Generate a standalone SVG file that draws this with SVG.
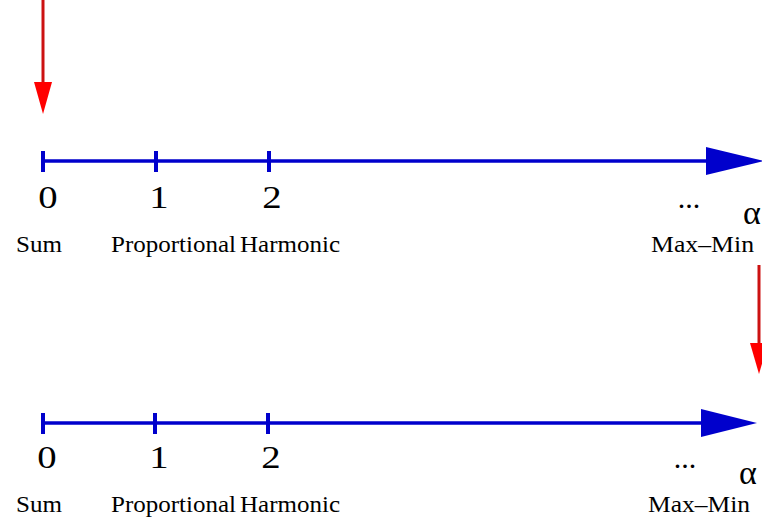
<svg xmlns="http://www.w3.org/2000/svg" width="762" height="520" viewBox="0 0 762 520">
<style>
.ax{stroke:#0000cc;stroke-width:3.5;fill:none}
.tk{stroke:#0000cc;stroke-width:4}
.ah{fill:#0000cc}
.rl{stroke:#cc1111;stroke-width:3;fill:none}
.rh{fill:#ff0000}
.dg{font-family:'Liberation Serif','Times New Roman',serif;font-size:31px;fill:#000}
.dt{font-family:'Liberation Serif','Times New Roman',serif;font-size:30px;fill:#000}
.lb{font-family:'Liberation Serif','Times New Roman',serif;font-size:23px;fill:#000}
.al{font-family:'Liberation Serif','Times New Roman',serif;font-size:34px;fill:#000}
</style>
<rect width="762" height="520" fill="#fff"/>
<g id="connectors">
<line class="rl" x1="43" y1="0" x2="43" y2="90"/>
<polygon class="rh" points="34,82 52,82 43,114"/>
<line class="rl" x1="759" y1="265" x2="759" y2="350"/>
<polygon class="rh" points="750,343 768,343 759,374"/>
</g>
<g id="axis-top">
<line class="ax" x1="43" y1="161" x2="712" y2="161"/>
<polygon class="ah" points="706,147 764,161 706,175"/>
<line class="tk" x1="43" y1="151" x2="43" y2="172"/>
<line class="tk" x1="156" y1="151" x2="156" y2="172"/>
<line class="tk" x1="269" y1="151" x2="269" y2="172"/>
<text class="dg" text-anchor="middle" transform="translate(48,208) scale(1.25,1)">0</text>
<text class="dg" text-anchor="middle" transform="translate(159,208) scale(1.25,1)">1</text>
<text class="dg" text-anchor="middle" transform="translate(272,208) scale(1.25,1)">2</text>
<text class="dt" text-anchor="middle" x="689" y="208">...</text>
<text class="al" x="743" y="224">α</text>
<text class="lb" x="16" y="252" textLength="46" lengthAdjust="spacingAndGlyphs">Sum</text>
<text class="lb" x="111" y="252" textLength="125" lengthAdjust="spacingAndGlyphs">Proportional</text>
<text class="lb" x="240" y="252" textLength="100" lengthAdjust="spacingAndGlyphs">Harmonic</text>
<text class="lb" x="651" y="252" textLength="103" lengthAdjust="spacingAndGlyphs">Max–Min</text>
</g>
<g id="axis-bottom">
<line class="ax" x1="43" y1="423" x2="706" y2="423"/>
<polygon class="ah" points="701,409 757,423 701,437"/>
<line class="tk" x1="43" y1="413" x2="43" y2="434"/>
<line class="tk" x1="155" y1="413" x2="155" y2="434"/>
<line class="tk" x1="268" y1="413" x2="268" y2="434"/>
<text class="dg" text-anchor="middle" transform="translate(47,468) scale(1.25,1)">0</text>
<text class="dg" text-anchor="middle" transform="translate(159,468) scale(1.25,1)">1</text>
<text class="dg" text-anchor="middle" transform="translate(271,468) scale(1.25,1)">2</text>
<text class="dt" text-anchor="middle" x="685" y="468">...</text>
<text class="al" x="739" y="484">α</text>
<text class="lb" x="16" y="512" textLength="46" lengthAdjust="spacingAndGlyphs">Sum</text>
<text class="lb" x="111" y="512" textLength="125" lengthAdjust="spacingAndGlyphs">Proportional</text>
<text class="lb" x="240" y="512" textLength="100" lengthAdjust="spacingAndGlyphs">Harmonic</text>
<text class="lb" x="648" y="512" textLength="102" lengthAdjust="spacingAndGlyphs">Max–Min</text>
</g>
</svg>
